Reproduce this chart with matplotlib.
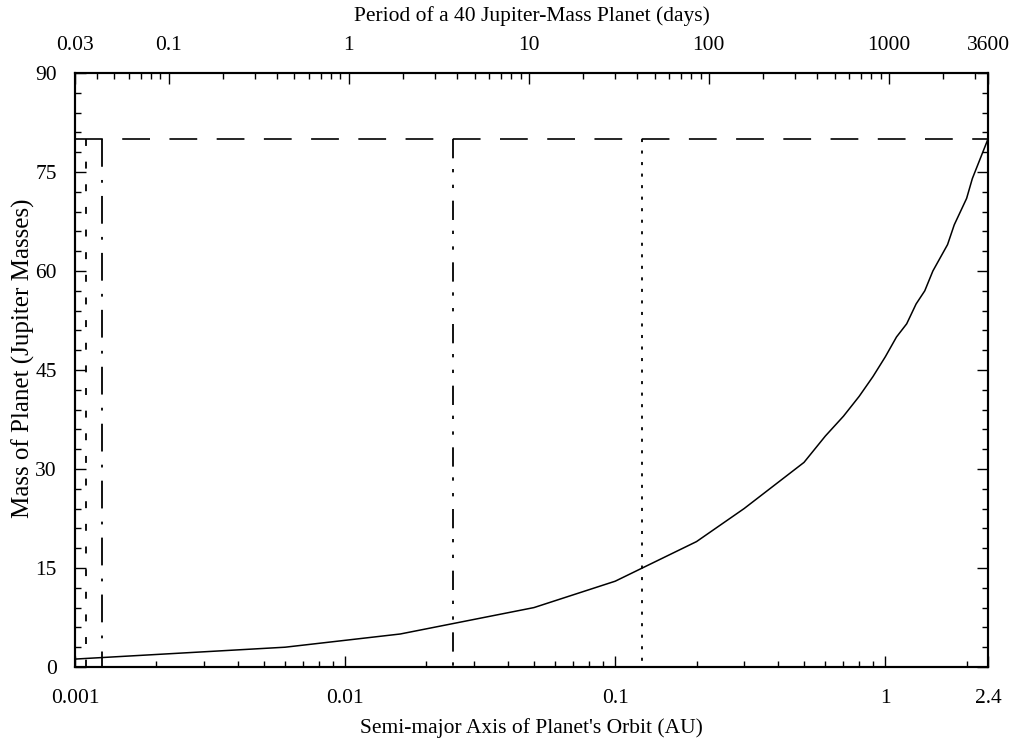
import matplotlib
matplotlib.use("Agg")
import matplotlib.pyplot as plt
from matplotlib.ticker import FixedLocator, FixedFormatter, LogLocator, MultipleLocator, NullFormatter

plt.rcParams['font.family'] = ['Liberation Serif', 'DejaVu Serif']
plt.rcParams['font.size'] = 15.5
plt.rcParams['lines.scale_dashes'] = False

# Data: mass of planet vs. semi-major axis
semi_major_axis = [0.001, 0.006, 0.016, 0.05, 0.1, 0.2, 0.3, 0.5, 0.6, 0.7, 0.8,
                   0.9, 1.0, 1.1, 1.2, 1.3, 1.4, 1.5, 1.7, 1.8, 2.0, 2.1, 2.4]
planet_mass = [1.2, 3, 5, 9, 13, 19, 24, 31, 35, 38, 41,
               44, 47, 50, 52, 55, 57, 60, 64, 67, 71, 74, 80]

mass_limit = 80
vline_positions = [0.0011, 0.00126, 0.025, 0.1256]

x_min, x_max = 0.001, 2.4
y_min, y_max = 0, 90
bottom_ticks = [0.001, 0.01, 0.1, 1, 2.4]
bottom_labels = ["0.001", "0.01", "0.1", "1", "2.4"]
top_ticks = [0.1, 1, 10, 100, 1000]
top_labels = ["0.03", "0.1", "1", "10", "100", "1000", "3600"]
period_const = 955.0  # days per AU^1.5 for the 40 M_J planet


def period(a):
    return period_const * a ** 1.5


fig = plt.figure(figsize=(10.16, 7.43), dpi=100)
ax = fig.add_axes([75 / 1016, 76 / 743, 913 / 1016, 594 / 743])

ax.plot(semi_major_axis, planet_mass, color='black', lw=1.1)
ax.plot([x_min, x_max], [mass_limit, mass_limit], color='black', lw=1.2,
        dashes=(20, 14))
styles = [(5, 11.3),
          (20, 9.5, 2, 9.5),
          (13.9, 7.7, 2.4, 8.9, 2.4, 9.1),
          (2.2, 6.1)]
for xv, ds in zip(vline_positions, styles):
    ax.plot([xv, xv], [mass_limit, 0], color='black', lw=1.3, dashes=ds)

ax.set_xscale('log')
ax.set_xlim(x_min, x_max)
ax.set_ylim(y_min, y_max)
ax.xaxis.set_major_locator(FixedLocator(bottom_ticks))
ax.xaxis.set_major_formatter(FixedFormatter(bottom_labels))
ax.xaxis.set_minor_locator(LogLocator(base=10, subs=range(2, 10)))
ax.xaxis.set_minor_formatter(NullFormatter())
ax.yaxis.set_major_locator(MultipleLocator(15))
ax.yaxis.set_minor_locator(MultipleLocator(3))
ax.tick_params(which='both', direction='in', top=False, right=True, bottom=True, left=True)
ax.tick_params(which='major', length=8, width=1)
ax.tick_params(which='minor', length=4, width=1)
ax.tick_params(axis='x', which='major', pad=16)
ax.tick_params(axis='y', which='major', pad=13)
for s in ax.spines.values():
    s.set_linewidth(1.5)

ax.set_xlabel("Semi-major Axis of Planet's Orbit (AU)", labelpad=7)
ax.set_ylabel("Mass of Planet (Jupiter Masses)", fontsize=18)
ax.yaxis.set_label_coords(-0.044, 0.52)

ax2 = ax.twiny()
ax2.set_xscale('log')
p_lo, p_hi = period(x_min), period(x_max)
ax2.set_xlim(p_lo, p_hi)
ax2.xaxis.set_major_locator(FixedLocator([p_lo] + top_ticks + [p_hi]))
ax2.xaxis.set_major_formatter(FixedFormatter(top_labels))
ax2.xaxis.set_minor_locator(LogLocator(base=10, subs=range(2, 10)))
ax2.xaxis.set_minor_formatter(NullFormatter())
ax2.tick_params(which='both', direction='in', top=True, bottom=False)
ax2.tick_params(which='major', length=8, width=1, pad=13)
ax2.tick_params(which='minor', length=4, width=1)
ax2.set_xlabel("Period of a 40 Jupiter-Mass Planet (days)", labelpad=11)
for s in ax2.spines.values():
    s.set_linewidth(1.5)

fig.savefig("out.png", dpi=100)
